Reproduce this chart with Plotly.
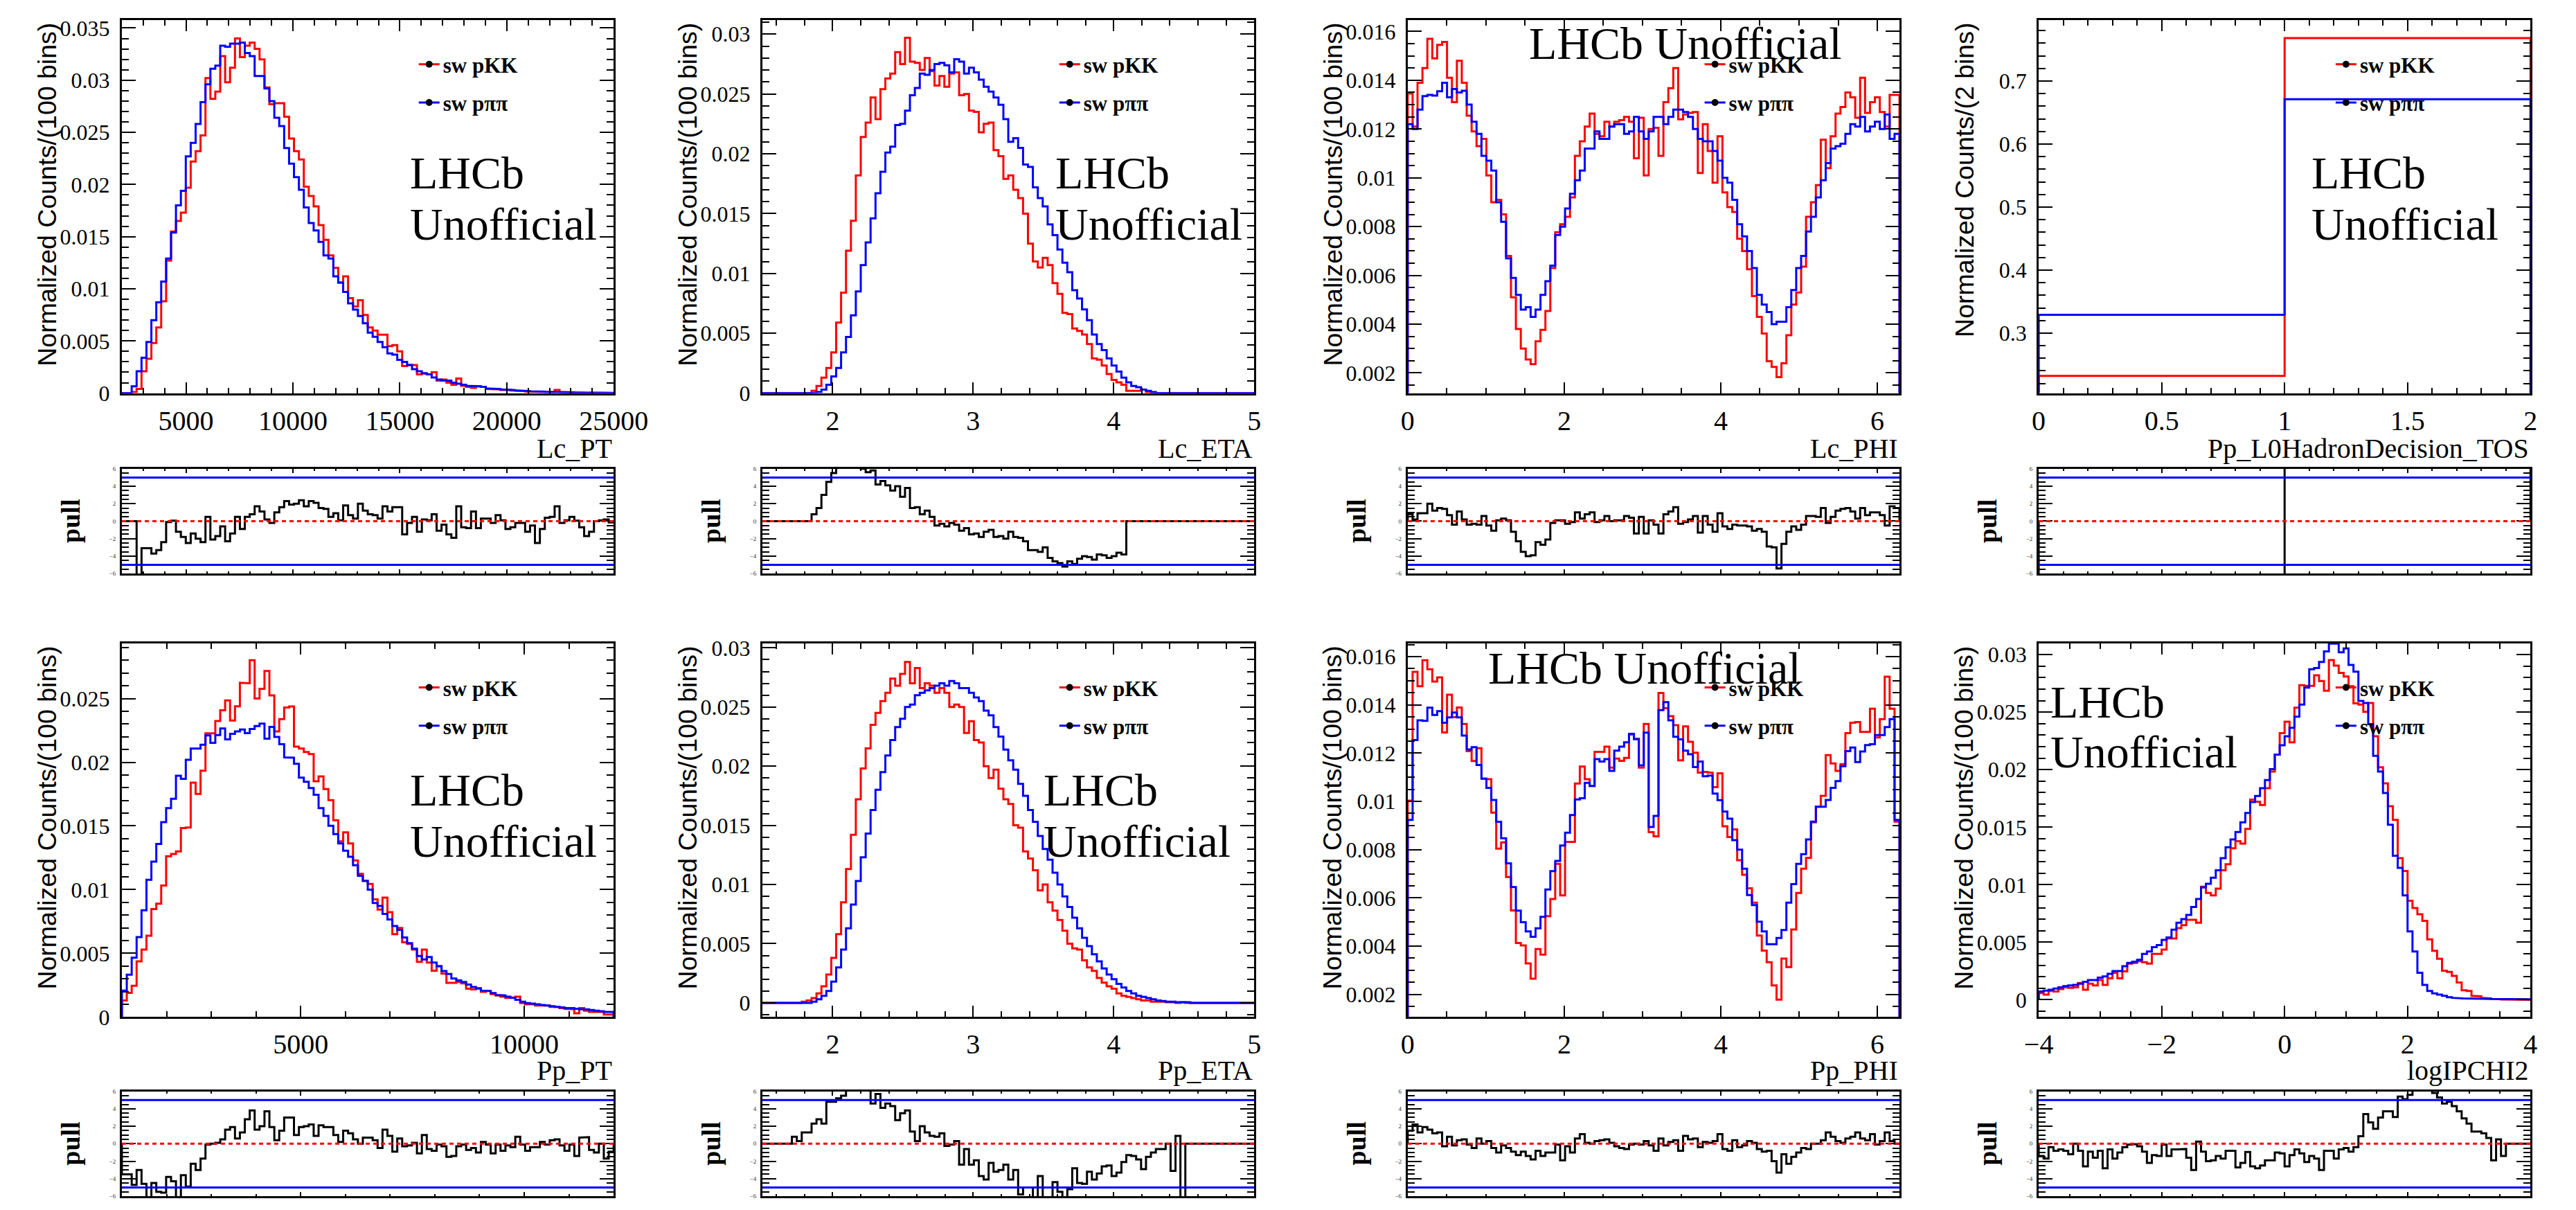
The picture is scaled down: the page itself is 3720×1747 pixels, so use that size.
import math
import plotly.graph_objects as go

W, H = 3720, 1747

# ------------------------------------------------------------------ data
var_names = ["Lc_PT", "Lc_ETA", "Lc_PHI", "Pp_L0HadronDecision_TOS",
             "Pp_PT", "Pp_ETA", "Pp_PHI", "logIPCHI2"]
bin_lo = [2000, 1.5, 0.0, 0.0, 1000, 1.5, 0.0, -4.0]
bin_hi = [25000, 5.0, 2 * math.pi, 2.0, 12000, 5.0, 2 * math.pi, 4.0]
series_names = ["sw pKK", "sw p\u03c0\u03c0"]

lc_pt_pkk = [0, 0, 0.0001, 0.0004, 0.0021, 0.0033, 0.0048, 0.0063, 0.0088, 0.0127,
             0.0155, 0.0165, 0.0173, 0.0197, 0.0222, 0.0232, 0.0247, 0.0302, 0.0282, 0.0289,
             0.0323, 0.0298, 0.0312, 0.0340, 0.0322, 0.0333, 0.0336, 0.0330, 0.0320, 0.0293,
             0.0277, 0.0278, 0.0278, 0.0265, 0.0244, 0.0232, 0.0224, 0.0198, 0.0189, 0.0179,
             0.0161, 0.0147, 0.0132, 0.0120, 0.0106, 0.0112, 0.0091, 0.0083, 0.0089, 0.0075,
             0.0063, 0.0060, 0.0056, 0.0056, 0.0045, 0.0046, 0.0040, 0.0026, 0.0027, 0.0027,
             0.0018, 0.0019, 0.0018, 0.0020, 0.0012, 0.0013, 0.0010, 0.0008, 0.0014, 0.0007,
             0.0006, 0.0005, 0.00065, 0.0006, 0.0004, 0.0004, 0.00035, 0.0003, 0.0003, 0.00025,
             0.0002, 0.0002, 0.00015, 0.00015, 0.00012, 0.0001, 0.0001, 0.0001, 0.0003, 0.0001,
             0.00008, 0.00006, 0.00005, 0.00005, 0.00004, 0.00003, 0.00003, 0.00002, 0.00002, 0.00001]
lc_pt_ppipi = [0, 0, 0.00065, 0.0021, 0.0034, 0.0049, 0.0070, 0.0087, 0.0107, 0.0129,
               0.0154, 0.0180, 0.0194, 0.0227, 0.0240, 0.0258, 0.0279, 0.0296, 0.0311, 0.0314,
               0.0333, 0.0332, 0.0335, 0.0335, 0.0336, 0.0326, 0.0323, 0.0304, 0.0304, 0.0292,
               0.0280, 0.0264, 0.0256, 0.0235, 0.0220, 0.0207, 0.0195, 0.0178, 0.0163, 0.0156,
               0.0145, 0.0132, 0.0129, 0.0112, 0.0106, 0.0097, 0.0086, 0.0080, 0.0074, 0.0067,
               0.0058, 0.0054, 0.0049, 0.0044, 0.0038, 0.0037, 0.0032, 0.0030, 0.0027, 0.0023,
               0.0021, 0.0019, 0.0018, 0.0015, 0.0013, 0.0012, 0.0012, 0.0010, 0.0009, 0.0008,
               0.0007, 0.0007, 0.00065, 0.0006, 0.00045, 0.00045, 0.0004, 0.00035, 0.0003, 0.0003,
               0.00025, 0.00022, 0.0002, 0.00018, 0.00016, 0.00014, 0.00012, 0.0001, 0.0001, 0.00009,
               0.00008, 0.00007, 0.00006, 0.00005, 0.00005, 0.00004, 0.00004, 0.00003, 0.00003, 0.00002]
lc_pt_pull = [0, 0, 0, -6.5, -3.1, -3.1, -3.7, -3.3, -2.4, -0.1,
              0.05, -1.2, -1.8, -2.5, -1.4, -2.0, -2.4, 0.5, -2.1, -1.7,
              -0.6, -2.3, -1.4, 0.5, -0.9, 0.5, 0.8, 1.7, 1.1, 0.2,
              -0.2, 1.0, 1.6, 2.3, 1.9, 2.0, 2.4, 1.7, 2.3, 2.1,
              1.5, 1.4, 0.5, 0.9, 0.1, 1.8, 0.7, 0.3, 2.0, 1.2,
              0.8, 0.7, 0.3, 1.7, 1.1, 1.6, 1.6, -1.5, -0.2, 0.5,
              -1.2, 0.2, 0.1, 0.8, -1.1, -0.4, -1.5, -1.9, 1.7, -0.7,
              -0.8, 1.1, -0.8, 0.3, 0.3, -0.2, 0.7, 0.1, -0.9, -0.7,
              -0.2, -0.2, -1.2, -0.5, -2.5, -0.9, 0.4, 0.5, 1.7, -0.2,
              0.1, 0.5, 0.05, -0.7, -1.7, -1.2, 0, 0.1, 0.2, -0.15]

lc_eta_pkk = [0, 0, 0, 0, 0, 0, 0, 0, 0, 0,
              0.0002, 0.0006, 0.0013, 0.0021, 0.0034, 0.0059, 0.0084, 0.0119, 0.0144, 0.0182,
              0.0214, 0.0226, 0.0247, 0.0229, 0.0254, 0.0263, 0.0267, 0.0285, 0.0275, 0.0297,
              0.0277, 0.0276, 0.0270, 0.0280, 0.0269, 0.0257, 0.0265, 0.0256, 0.0267, 0.0268,
              0.0249, 0.0250, 0.0236, 0.0235, 0.0218, 0.0225, 0.0226, 0.0203, 0.0198, 0.0179,
              0.0182, 0.0170, 0.0163, 0.0150, 0.0125, 0.0110, 0.0105, 0.0113, 0.0107, 0.0092,
              0.0083, 0.0067, 0.0066, 0.0054, 0.0052, 0.0049, 0.0041, 0.0029, 0.0028, 0.0023,
              0.0016, 0.0011, 0.0009, 0.0007, 0.0002, 0.0002, 0.0002, 0.0003, 0.0001, 0,
              0, 0, 0, 0, 0, 0, 0, 0, 0, 0,
              0, 0, 0, 0, 0, 0, 0, 0, 0, 0]
lc_eta_ppipi = [0, 0, 0, 0, 0, 0, 0, 0, 0, 0,
                0, 0.0001, 0.0003, 0.0007, 0.0014, 0.0021, 0.0034, 0.0047, 0.0065, 0.0085,
                0.0107, 0.0126, 0.0146, 0.0167, 0.0185, 0.0201, 0.0206, 0.0224, 0.0225, 0.0236,
                0.0249, 0.0255, 0.0267, 0.0266, 0.0270, 0.0275, 0.0276, 0.0274, 0.0268, 0.0279,
                0.0277, 0.0267, 0.0272, 0.0268, 0.0262, 0.0256, 0.0252, 0.0247, 0.0241, 0.0229,
                0.0210, 0.0213, 0.0205, 0.0191, 0.0189, 0.0172, 0.0163, 0.0156, 0.0141, 0.0132,
                0.0120, 0.0109, 0.0101, 0.0086, 0.0079, 0.0070, 0.0061, 0.0049, 0.0041, 0.0036,
                0.0029, 0.0023, 0.0018, 0.0013, 0.0009, 0.0006, 0.0005, 0.0003, 0.0002, 0.0001,
                0, 0, 0, 0, 0, 0, 0, 0, 0, 0,
                0, 0, 0, 0, 0, 0, 0, 0, 0, 0]
lc_eta_pull = [0, 0, 0, 0, 0, 0, 0, 0, 0, 0,
               0.8, 1.5, 3.0, 4.5, 5.5, 6.5, 6.5, 6.5, 6.5, 6.2,
               6.0, 5.6, 5.8, 4.2, 4.6, 4.1, 3.5, 4.0, 2.8, 3.8,
               1.5, 1.6, 0.8, 1.2, 0.5, -0.5, -0.3, -0.6, -0.2, -0.4,
               -1.1, -0.8, -1.5, -1.4, -1.8, -1.2, -1.0, -1.8, -1.7, -2.0,
               -1.2, -1.8, -1.9, -2.3, -3.3, -3.3, -3.5, -3.0, -4.2, -4.6,
               -4.8, -5.2, -4.6, -4.9, -4.3, -4.0, -4.1, -4.4, -3.8, -3.9,
               -4.2, -4.0, -3.6, -3.8, 0, 0, 0, 0, 0, 0,
               0, 0, 0, 0, 0, 0, 0, 0, 0, 0,
               0, 0, 0, 0, 0, 0, 0, 0, 0, 0]

lc_phi_pkk = [0.01346, 0.0121, 0.0139, 0.0145, 0.0157, 0.0149, 0.01545, 0.01557, 0.0141, 0.0131,
              0.0148, 0.0139, 0.01255, 0.0119, 0.0113, 0.0116, 0.0101, 0.0090, 0.0091, 0.0085,
              0.0068, 0.0051, 0.0038, 0.0030, 0.00255, 0.00236, 0.0033, 0.00377, 0.00454, 0.0063,
              0.00777, 0.0081, 0.0084, 0.0092, 0.0109, 0.0115, 0.0121, 0.01263, 0.0118, 0.0117,
              0.0123, 0.0121, 0.0123, 0.01236, 0.0125, 0.0123, 0.0108, 0.01246, 0.0101, 0.0120,
              0.01205, 0.0109, 0.0131, 0.01368, 0.0145, 0.0124, 0.0126, 0.01266, 0.0127, 0.0102,
              0.0122, 0.0111, 0.0098, 0.0117, 0.0094, 0.0088, 0.0086, 0.0075, 0.0070, 0.00625,
              0.00515, 0.0043, 0.00362, 0.00248, 0.00225, 0.00183, 0.0024, 0.00355, 0.0048, 0.0053,
              0.00636, 0.0084, 0.0090, 0.0097, 0.01156, 0.0104, 0.0117, 0.01263, 0.0129, 0.0135,
              0.0133, 0.01246, 0.0141, 0.01266, 0.0131, 0.0133, 0.0127, 0.0121, 0.0134, 0.0134]
lc_phi_ppipi = [0.0122, 0.0120, 0.0128, 0.01335, 0.0134, 0.01337, 0.01355, 0.0139, 0.0133, 0.01364,
                0.0135, 0.01357, 0.0130, 0.0123, 0.0118, 0.0109, 0.0107, 0.0103, 0.0090, 0.0082,
                0.0067, 0.0059, 0.0052, 0.0046, 0.0047, 0.0043, 0.0046, 0.0052, 0.00576, 0.0064,
                0.00766, 0.0080, 0.00874, 0.00935, 0.0099, 0.0103, 0.0112, 0.0112, 0.0119, 0.0116,
                0.0116, 0.0121, 0.0122, 0.0122, 0.0118, 0.0119, 0.0125, 0.0119, 0.0116, 0.0119,
                0.0125, 0.0125, 0.0122, 0.0125, 0.0128, 0.0128, 0.0127, 0.0125, 0.0120, 0.0116,
                0.0115, 0.0115, 0.0111, 0.0107, 0.0100, 0.0098, 0.0091, 0.0081, 0.0076, 0.0070,
                0.0063, 0.0052, 0.0048, 0.0045, 0.0040, 0.0041, 0.0041, 0.0047, 0.0054, 0.0063,
                0.0068, 0.0078, 0.0084, 0.0092, 0.0099, 0.0106, 0.0112, 0.0113, 0.0114, 0.0118,
                0.0122, 0.0121, 0.0125, 0.0119, 0.0121, 0.0123, 0.0120, 0.0126, 0.0116, 0.0118]
lc_phi_pull = [0.8, 0.2, 0.9, 0.9, 2.0, 1.2, 1.5, 1.4, 0.7, -0.4,
               1.1, 0.2, -0.4, -0.3, -0.4, 0.6, -0.5, -1.1, 0.1, 0.3,
               0.1, -1.2, -2.3, -3.5, -4.0, -3.9, -2.4, -2.7, -2.1, -0.2,
               0.1, 0.1, -0.3, -0.1, 1.0, 0.3, 0.8, 1.0, -0.1, 0.1,
               0.6, 0.0, 0.1, 0.1, 0.6, 0.4, -1.4, 0.5, -1.4, 0.1,
               -0.4, -1.4, 0.8, 1.1, 1.6, -0.3, -0.1, 0.2, 0.6, -1.3,
               0.6, -0.4, -1.2, 0.9, -0.6, -0.9, -0.4, -0.5, -0.5, -0.6,
               -1.1, -0.9, -1.2, -2.9, -3.0, -5.4, -2.6, -1.2, -0.6, -1.0,
               -0.4, 0.6, 0.6, 0.5, 1.5, -0.2, 0.5, 1.2, 1.4, 1.5,
               1.1, 0.3, 1.5, 0.7, 1.0, 1.0, 0.7, -0.5, 1.7, 1.5]

l0_pkk = [0.232, 0.768]
l0_ppipi = [0.329, 0.671]
l0_pull = [-40.0, 40.0]

pp_pt_pkk = [0.0013, 0.0019, 0.00246, 0.00437, 0.0053, 0.00638, 0.00848, 0.0089, 0.01033, 0.01262,
             0.0128, 0.0130, 0.01484, 0.01488, 0.0184, 0.01751, 0.01933, 0.02227, 0.02227, 0.02324,
             0.02408, 0.02485, 0.02328, 0.02439, 0.02624, 0.0262, 0.0280, 0.0250, 0.02576, 0.02716,
             0.02525, 0.02242, 0.02338, 0.0243, 0.02437, 0.02122, 0.02108, 0.0208, 0.02064, 0.0185,
             0.01889, 0.0179, 0.01702, 0.01545, 0.01379, 0.0145, 0.01363, 0.0123, 0.01125, 0.01071,
             0.01044, 0.00924, 0.00844, 0.00937, 0.00823, 0.00651, 0.0070, 0.00586, 0.00575, 0.00529,
             0.00433, 0.00529, 0.00427, 0.00364, 0.00399, 0.00341, 0.00269, 0.00269, 0.00275, 0.00265,
             0.00223, 0.00217, 0.00223, 0.00198, 0.00204, 0.0018, 0.0017, 0.0016, 0.0015, 0.00154,
             0.0016, 0.0011, 0.0010, 0.0010, 0.0009, 0.0009, 0.0009, 0.0008, 0.0008, 0.0007,
             0.00064, 0.0006, 0.0003, 0.0007, 0.0005, 0.0004, 0.0004, 0.0004, 0.0002, 0.0002]
pp_pt_ppipi = [0.00208, 0.00332, 0.00466, 0.00628, 0.00838, 0.01077, 0.0122, 0.01358, 0.0153, 0.0164,
               0.01713, 0.01894, 0.0187, 0.02019, 0.02108, 0.02108, 0.02137, 0.0221, 0.02152, 0.02213,
               0.02265, 0.0218, 0.02223, 0.02242, 0.02257, 0.02229, 0.02261, 0.02284, 0.02303, 0.02185,
               0.02277, 0.02198, 0.02141, 0.02038, 0.02036, 0.01988, 0.01879, 0.01847, 0.01797, 0.01745,
               0.0164, 0.01579, 0.01501, 0.01436, 0.01363, 0.01306, 0.01258, 0.01192, 0.01109, 0.01067,
               0.0100, 0.00895, 0.00872, 0.00809, 0.00766, 0.00714, 0.00685, 0.00624, 0.0058, 0.00536,
               0.00479, 0.00452, 0.00471, 0.00427, 0.00399, 0.00361, 0.00338, 0.00303, 0.00288, 0.00275,
               0.00255, 0.00236, 0.00227, 0.00208, 0.00204, 0.00189, 0.00173, 0.0017, 0.0016, 0.0015,
               0.00135, 0.0012, 0.0011, 0.00105, 0.0010, 0.00095, 0.0009, 0.00085, 0.0008, 0.00075,
               0.0007, 0.0007, 0.00065, 0.0006, 0.0006, 0.00055, 0.0005, 0.00045, 0.0004, 0.0004]
pp_pt_pull = [-3.5, -3.5, -4.7, -3.0, -4.6, -6.5, -4.5, -5.5, -5.6, -3.8,
              -4.3, -6.5, -3.6, -4.9, -2.3, -3.0, -1.7, -0.1, 0.0, 0.1,
              0.5, 1.6, 1.9, 0.6, 1.3, 2.8, 3.8, 1.6, 2.0, 3.7,
              1.9, 0.4, 1.5, 3.0, 3.0, 1.0, 1.9, 2.0, 2.2, 0.9,
              2.1, 1.9, 1.9, 1.0, 0.2, 1.5, 1.2, 0.5, 0.0, 0.7,
              0.7, 0.4, -0.5, 1.6, 0.9, -0.9, 0.6, -0.3, -0.2, 0.1,
              -1.1, 1.0, -0.6, -0.8, -0.1, -0.3, -1.5, -1.4, -0.3, -0.1,
              -0.7, -0.5, -1.0, 0.2, -0.1, -1.1, -0.1, -0.8, -0.2, -0.4,
              0.8, -0.1, -0.8, -0.4, -0.4, 0.2, -0.1, 0.4, 0.5, -0.2,
              -0.8, -0.1, -1.4, 0.7, 0.75, -0.7, -1.0, 0.0, -1.7, -0.9]

pp_eta_pkk = [0, 0, 0, 0, 0, 0, 0, 0, 0.0001, 0.0002,
              0.0004, 0.0008, 0.0014, 0.0024, 0.0038, 0.0058, 0.0085, 0.0113, 0.0142, 0.0172,
              0.0198, 0.0215, 0.0235, 0.0245, 0.0255, 0.0262, 0.0274, 0.0268, 0.0278, 0.0288,
              0.0270, 0.0283, 0.0266, 0.0270, 0.0268, 0.0262, 0.0266, 0.0262, 0.0250, 0.0252,
              0.0250, 0.0228, 0.0238, 0.0222, 0.0220, 0.0200, 0.0190, 0.0197, 0.0181, 0.0172,
              0.0168, 0.0150, 0.0148, 0.0128, 0.0122, 0.0112, 0.0095, 0.0100, 0.0085, 0.0078,
              0.0070, 0.0061, 0.0050, 0.0046, 0.0045, 0.0036, 0.0030, 0.0027, 0.0021, 0.0017,
              0.0014, 0.0012, 0.0008, 0.0006, 0.0005, 0.0004, 0.0003, 0.0002, 0.0002, 0.0001,
              0.0001, 0.0001, 0.00005, 0.00005, 0, 0.00005, 0, 0, 0, 0,
              0, 0, 0, 0, 0, 0, 0, 0, 0, 0]
pp_eta_ppipi = [0, 0, 0, 0, 0, 0, 0, 0, 0, 0,
                0.0001, 0.0003, 0.0006, 0.0010, 0.0018, 0.0030, 0.0045, 0.0063, 0.0083, 0.0103,
                0.0123, 0.0143, 0.0163, 0.0180, 0.0195, 0.0209, 0.0222, 0.0233, 0.0240, 0.0250,
                0.0252, 0.0260, 0.0262, 0.0264, 0.0266, 0.0268, 0.0270, 0.0268, 0.0272, 0.0270,
                0.0266, 0.0266, 0.0262, 0.0258, 0.0255, 0.0247, 0.0243, 0.0233, 0.0225, 0.0214,
                0.0205, 0.0197, 0.0185, 0.0175, 0.0163, 0.0153, 0.0141, 0.0130, 0.0121, 0.0110,
                0.0100, 0.0090, 0.0081, 0.0072, 0.0063, 0.0055, 0.0048, 0.0041, 0.0035, 0.0029,
                0.0024, 0.0020, 0.0016, 0.0013, 0.0010, 0.0008, 0.0006, 0.0005, 0.0004, 0.0003,
                0.0002, 0.00015, 0.0001, 0.0001, 0.00005, 0.00005, 0.00005, 0, 0, 0,
                0, 0, 0, 0, 0, 0, 0, 0, 0, 0]
pp_eta_pull = [0, 0, 0, 0, 0, 0, 0.8, 0.3, 1.3, 1.3,
               2.3, 2.8, 2.3, 4.8, 4.8, 5.2, 5.5, 6.5, 6.5, 6.5,
               6.5, 6.5, 4.6, 5.7, 4.1, 4.6, 4.3, 2.7, 3.5, 3.8,
               1.4, 0.3, 2.0, 1.3, 0.9, 0.8, 1.2, -0.26, -0.1, 0.3,
               -2.4, -0.6, -2.4, -1.9, -3.7, -4.1, -2.2, -3.2, -3.0, -2.4,
               -4.1, -3.0, -5.8, -5.0, -5.0, -6.5, -3.7, -6.5, -6.5, -4.4,
               -5.5, -6.5, -5.2, -2.8, -4.5, -4.6, -3.2, -4.1, -3.4, -2.6,
               -2.5, -3.7, -3.3, -2.1, -1.3, -1.4, -1.8, -2.9, -1.5, -1.0,
               -0.6, -0.6, 0.0, -3.1, 0.9, -9.0, 0, 0, 0, 0,
               0, 0, 0, 0, 0, 0, 0, 0, 0, 0]

pp_phi_pkk = [0.01003, 0.01537, 0.01477, 0.01585, 0.01548, 0.01497, 0.01514, 0.01286, 0.01442, 0.01349,
              0.01389, 0.01321, 0.01208, 0.01167, 0.0122, 0.01094, 0.01092, 0.00953, 0.00804, 0.0083,
              0.00686, 0.00548, 0.00413, 0.00403, 0.00328, 0.00265, 0.00388, 0.00365, 0.00524, 0.00595,
              0.00741, 0.0061, 0.00832, 0.00832, 0.01074, 0.01144, 0.01092, 0.01064, 0.01205, 0.01205,
              0.01227, 0.0114, 0.01177, 0.01168, 0.0118, 0.01277, 0.0126, 0.0114, 0.01321, 0.00872,
              0.00855, 0.01449, 0.01386, 0.01353, 0.01316, 0.0117, 0.01311, 0.01247, 0.01202, 0.01119,
              0.01122, 0.01119, 0.01059, 0.01116, 0.00897, 0.00852, 0.00884, 0.00756, 0.00696, 0.0064,
              0.0058, 0.00444, 0.00381, 0.00333, 0.00237, 0.00178, 0.00348, 0.00313, 0.00469, 0.0062,
              0.00721, 0.00766, 0.00913, 0.00978, 0.01023, 0.01192, 0.01157, 0.01126, 0.01154, 0.01283,
              0.01326, 0.01329, 0.01288, 0.01288, 0.01384, 0.01265, 0.01341, 0.01517, 0.01384, 0.00916]
pp_phi_ppipi = [0.00923, 0.01254, 0.01336, 0.01334, 0.01388, 0.01358, 0.01374, 0.01326, 0.01348, 0.01368,
                0.01348, 0.01273, 0.01215, 0.01225, 0.01151, 0.01094, 0.01056, 0.01006, 0.00915, 0.00847,
                0.00743, 0.00645, 0.00547, 0.00499, 0.00461, 0.00439, 0.00474, 0.00521, 0.00635, 0.00711,
                0.00753, 0.00817, 0.0087, 0.00943, 0.01008, 0.01013, 0.01077, 0.01064, 0.01175, 0.01165,
                0.01175, 0.01126, 0.0121, 0.01227, 0.01245, 0.0128, 0.01258, 0.01149, 0.01285, 0.00894,
                0.0094, 0.01378, 0.01411, 0.01336, 0.01268, 0.01257, 0.0121, 0.01195, 0.01142, 0.01165,
                0.01104, 0.01107, 0.01032, 0.01005, 0.00958, 0.00928, 0.00839, 0.008, 0.00721, 0.00612,
                0.0057, 0.00501, 0.00461, 0.00408, 0.00408, 0.00434, 0.00467, 0.0058, 0.00657, 0.00741,
                0.00781, 0.00842, 0.00916, 0.00978, 0.00978, 0.01006, 0.01056, 0.01084, 0.01146, 0.01208,
                0.01223, 0.01163, 0.01207, 0.01233, 0.01237, 0.01275, 0.01275, 0.01308, 0.01341, 0.00923]
pp_phi_pull = [1.5, 2.2, 1.3, 1.9, 1.6, 1.2, 1.3, -0.3, 0.8, -0.2,
               0.4, 0.5, -0.1, -0.5, 0.6, 0.0, 0.3, -0.5, -1.0, -0.2,
               -0.5, -0.9, -1.3, -0.9, -1.4, -1.8, -0.8, -1.4, -1.0, -1.0,
               -0.1, -1.9, -0.3, -1.0, 0.6, 1.1, 0.1, 0.0, 0.3, 0.4,
               0.5, 0.1, -0.3, -0.5, -0.6, -0.1, 0.0, -0.1, 0.3, -0.2,
               -0.8, 0.6, -0.2, 0.2, 0.4, -0.8, 0.9, 0.5, 0.6, -0.4,
               0.2, 0.1, 0.3, 1.1, -0.6, -0.8, 0.4, -0.4, -0.2, 0.3,
               0.1, -0.6, -0.9, -0.8, -2.0, -3.3, -1.2, -2.3, -1.5, -1.0,
               -0.5, -0.6, 0.0, 0.0, 0.4, 1.3, 0.8, 0.3, 0.1, 0.6,
               0.8, 1.3, 0.6, 0.4, 1.1, -0.1, 0.3, 1.3, 0.3, 0.0]

logip_pkk = [0.00059, 0.00045, 0.00076, 0.00072, 0.00093, 0.00108, 0.00104, 0.00108, 0.00146, 0.00087,
             0.0014, 0.00125, 0.00172, 0.00129, 0.00186, 0.00235, 0.00186, 0.00246, 0.00314, 0.0032,
             0.00335, 0.00326, 0.00314, 0.00398, 0.00398, 0.00436, 0.00532, 0.00532, 0.00623, 0.00648,
             0.00695, 0.00695, 0.00669, 0.00983, 0.00928, 0.00907, 0.00966, 0.01125, 0.01178, 0.01316,
             0.01379, 0.01358, 0.01485, 0.01739, 0.01722, 0.01693, 0.01839, 0.01983, 0.02131, 0.02318,
             0.02417, 0.02237, 0.02538, 0.02735, 0.02729, 0.02729, 0.0282, 0.02771, 0.02686, 0.02953,
             0.02905, 0.02841, 0.0281, 0.02725, 0.02576, 0.02566, 0.02502, 0.0258, 0.0229, 0.02021,
             0.01881, 0.01682, 0.01564, 0.01231, 0.01119, 0.0086, 0.00797, 0.00744, 0.00686, 0.00525,
             0.00426, 0.00356, 0.00252, 0.00242, 0.00208, 0.00151, 0.00083, 0.00076, 0.00034, 0.0003,
             0.00017, 0.00013, 0.00008, 0.00004, 0.00003, 0.00002, 0.00002, 0.00001, 0.00001, 0.0]
logip_ppipi = [0.00072, 0.0008, 0.00087, 0.00097, 0.00108, 0.00119, 0.00125, 0.00129, 0.0014, 0.00157,
               0.00172, 0.00172, 0.00193, 0.00203, 0.00225, 0.0025, 0.0025, 0.00292, 0.0032, 0.00331,
               0.00347, 0.00398, 0.00419, 0.00458, 0.00475, 0.00521, 0.00542, 0.0061, 0.00669, 0.00701,
               0.00737, 0.00807, 0.00875, 0.00977, 0.01008, 0.01061, 0.01125, 0.01231, 0.01326, 0.01394,
               0.01458, 0.01542, 0.01623, 0.01718, 0.01771, 0.01839, 0.01909, 0.02004, 0.02131, 0.02212,
               0.0229, 0.02364, 0.0246, 0.02566, 0.02714, 0.02873, 0.02883, 0.02936, 0.03028, 0.03095,
               0.03095, 0.03021, 0.03053, 0.02911, 0.02852, 0.02597, 0.0258, 0.02396, 0.02121, 0.01983,
               0.01797, 0.01521, 0.01252, 0.01146, 0.00907, 0.00595, 0.00419, 0.00235, 0.00129, 0.00076,
               0.00055, 0.00045, 0.00034, 0.00023, 0.00017, 0.00013, 0.00012, 0.00011, 0.0001, 0.00009,
               0.00008, 0.00008, 0.00007, 0.00007, 0.00006, 0.00006, 0.00005, 0.00005, 0.00005, 0.00005]
logip_pull = [-1.4, -1.7, -0.4, -0.8, -0.65, -0.8, -1.2, 0.0, -0.8, -2.6,
              -0.9, -1.6, -0.8, -2.8, -0.65, -1.7, -1.0, -0.4, -0.1, -0.05,
              -0.3, -0.9, -2.2, -1.3, -1.4, -0.1, -1.4, -0.65, -0.65, -0.6,
              -1.6, -3.0, 0.25, -0.9, -2.0, -1.9, -1.4, -1.7, -0.8, -0.8,
              -2.7, -2.2, -0.95, -2.6, -2.8, -2.5, -1.9, -1.9, -1.0, -1.1,
              -2.6, -1.3, -0.65, -1.1, -2.1, -1.4, -1.7, -3.0, -0.8, -0.8,
              -1.7, -0.65, -0.5, -0.9, -0.4, 0.85, 3.4, 2.45, 1.7, 3.0,
              3.7, 3.7, 3.05, 5.4, 5.1, 5.6, 6.5, 6.5, 6.5, 6.5,
              5.8, 5.3, 4.6, 4.8, 4.3, 3.7, 2.9, 2.3, 1.4, 1.4,
              1.2, 0.65, -1.9, 0.5, -1.4, 0, 0, 0, 0, 0]

hist_pkk = [lc_pt_pkk, lc_eta_pkk, lc_phi_pkk, l0_pkk, pp_pt_pkk, pp_eta_pkk, pp_phi_pkk, logip_pkk]
hist_ppipi = [lc_pt_ppipi, lc_eta_ppipi, lc_phi_ppipi, l0_ppipi, pp_pt_ppipi, pp_eta_ppipi, pp_phi_ppipi, logip_ppipi]
hist_pull = [lc_pt_pull, lc_eta_pull, lc_phi_pull, l0_pull, pp_pt_pull, pp_eta_pull, pp_phi_pull, logip_pull]
y_titles = ["Normalized Counts/(100 bins)"] * 3 + ["Normalized Counts/(2 bins)"] + ["Normalized Counts/(100 bins)"] * 4

# ------------------------------------------------------------------ layout / style
x_view = [[2000, 25000], [1.5, 5], [0, 2 * math.pi], [0, 2], [1000, 12000], [1.5, 5], [0, 2 * math.pi], [-4, 4]]
y_view = [[0, 0.03578], [0, 0.03119], [0.001173, 0.016475], [0.2047, 0.797],
          [0, 0.02935], [-0.0012, 0.0304], [0.00106, 0.01656], [-0.0015, 0.031]]
x_ticks = [(5000, 1000, "d"), (1, 0.2, "~f"), (2, 0.5, "~f"), (0.5, 0.1, ".1~f"),
           (5000, 1000, "d"), (1, 0.2, "~f"), (2, 0.5, "~f"), (2, 0.5, "~f")]
y_ticks = [(0.005, 0.001, ".3~f"), (0.005, 0.001, ".3~f"), (0.002, 0.0005, ".3~f"), (0.1, 0.02, ".1~f"),
           (0.005, 0.001, ".3~f"), (0.005, 0.001, ".3~f"), (0.002, 0.0005, ".3~f"), (0.005, 0.001, ".3~f")]

COL_LEFT = [158, 1101, 2051, 2980]
FW = 724
MAIN_ROWS = [(18, 566), (933, 1482)]
PULL_ROWS = [(677, 831), (1591, 1745)]
TITLE_Y = [647, 1560]
# LHCb label positions (relative to frame left / frame top, px)
lhcb_pos = [[(422, 225, "LHCb"), (422, 300, "Unofficial")],
            [(429, 225, "LHCb"), (429, 300, "Unofficial")],
            [(177, 34, "LHCb Unofficial")],
            [(400, 225, "LHCb"), (400, 300, "Unofficial")],
            [(422, 216, "LHCb"), (422, 291, "Unofficial")],
            [(412, 216, "LHCb"), (412, 291, "Unofficial")],
            [(116, 37, "LHCb Unofficial")],
            [(15, 86, "LHCb"), (15, 160, "Unofficial")]]

SERIF = "Liberation Serif"
SANS = "Liberation Sans"
RED, BLUE = "#ff0000", "#0000ff"


def px(x):
    return x / W


def py(y):
    return 1 - y / H


def step_xy(lo, hi, vals):
    n = len(vals)
    edges = [lo + (hi - lo) * i / n for i in range(n + 1)]
    xs, ys = [edges[0]], [0.0]
    for i, v in enumerate(vals):
        xs += [edges[i], edges[i + 1]]
        ys += [v, v]
    xs.append(edges[-1])
    ys.append(0.0)
    return xs, ys


def aref(k):
    return ("x", "y") if k == 1 else (f"x{k}", f"y{k}")


def akey(k):
    return ("xaxis", "yaxis") if k == 1 else (f"xaxis{k}", f"yaxis{k}")


fig = go.Figure()
layout = dict(width=W, height=H, margin=dict(l=0, r=0, t=0, b=0), autosize=False,
              paper_bgcolor="white", plot_bgcolor="white", showlegend=True)
annotations = []
shapes = []

for p in range(8):
    row, col = divmod(p, 4)
    L = COL_LEFT[col]
    mt, mb = MAIN_ROWS[row]
    pt, pb = PULL_ROWS[row]
    km, kp = 2 * p + 1, 2 * p + 2
    xm, ym = aref(km)
    xp_, yp_ = aref(kp)
    xd = [px(L), px(L + FW)]
    xdt, xminor, xfmt = x_ticks[p]
    ydt, yminor, yfmt = y_ticks[p]
    common = dict(showline=True, linewidth=3, linecolor="black", mirror="allticks",
                  ticks="inside", tickwidth=2, tickcolor="black", showgrid=False, zeroline=False,
                  tickfont=dict(family=SERIF, size=40, color="black"))
    kx, ky = akey(km)
    layout[kx] = dict(common, domain=xd, range=x_view[p], anchor=ym, ticklen=16, dtick=xdt, tick0=0,
                      tickformat=xfmt, ticklabelstandoff=2,
                      minor=dict(ticks="inside", ticklen=8, dtick=xminor, tick0=0, tickwidth=2, tickcolor="black"))
    layout[ky] = dict(common, domain=[py(mb), py(mt)], range=y_view[p], anchor=xm, ticklen=20, dtick=ydt,
                      tick0=0, tickformat=yfmt, ticklabelstandoff=8,
                      tickfont=dict(family=SERIF, size=32, color="black"),
                      minor=dict(ticks="inside", ticklen=10, dtick=yminor, tick0=0, tickwidth=2, tickcolor="black"))
    kx2, ky2 = akey(kp)
    layout[kx2] = dict(common, domain=xd, range=x_view[p], anchor=yp_, ticklen=6, dtick=xdt, tick0=0,
                       showticklabels=False,
                       minor=dict(ticks="inside", ticklen=3, dtick=xminor, tick0=0, tickwidth=2, tickcolor="black"))
    layout[ky2] = dict(common, domain=[py(pb), py(pt)], range=[-6, 6], anchor=xp_, ticklen=20, dtick=2, tick0=0,
                       tickformat="d", tickfont=dict(family=SERIF, size=9, color="#333333"), ticklabelstandoff=4,
                       minor=dict(ticks="inside", ticklen=10, dtick=0.5, tick0=0, tickwidth=2, tickcolor="black"))

    lo, hi = bin_lo[p], bin_hi[p]
    for vals, color in ((hist_pkk[p], RED), (hist_ppipi[p], BLUE)):
        xs, ys = step_xy(lo, hi, vals)
        fig.add_trace(go.Scatter(x=xs, y=ys, mode="lines", line=dict(color=color, width=3),
                                 xaxis=xm, yaxis=ym, showlegend=False, hoverinfo="skip"))
    xs, ys = step_xy(lo, hi, hist_pull[p])
    fig.add_trace(go.Scatter(x=xs, y=ys, mode="lines", line=dict(color="black", width=3),
                             xaxis=xp_, yaxis=yp_, showlegend=False, hoverinfo="skip"))

    # legend entries
    lname = "legend" if p == 0 else f"legend{p + 1}"
    for nm, color in zip(series_names, (RED, BLUE)):
        fig.add_trace(go.Scatter(x=[None], y=[None], mode="lines+markers", name=nm,
                                 line=dict(color=color, width=3), marker=dict(color="black", size=10),
                                 xaxis=xm, yaxis=ym, legend=lname, legendgroup=f"{nm}{p}", showlegend=True))
    layout[lname] = dict(x=px(L + 432), y=py(mt + 38), xanchor="left", yanchor="top",
                         bgcolor="rgba(0,0,0,0)", borderwidth=0, tracegroupgap=12, itemwidth=30,
                         font=dict(family=SERIF, size=31, color="black", weight="bold"))

    # pull reference lines
    for yv, color, dash in ((5, BLUE, "solid"), (-5, BLUE, "solid"), (0, RED, "6px,5px")):
        shapes.append(dict(type="line", xref=f"{xp_} domain", yref=yp_, x0=0, x1=1, y0=yv, y1=yv,
                           line=dict(color=color, width=3, dash=dash), layer="above"))

    # texts
    annotations.append(dict(text=var_names[p], xref="paper", yref="paper", x=px(L + FW), y=py(TITLE_Y[row]),
                            xanchor="right", yanchor="middle", showarrow=False,
                            font=dict(family=SERIF, size=40, color="black")))
    annotations.append(dict(text=y_titles[p], xref="paper", yref="paper", x=px(L - 110), y=py(mt + 2),
                            xanchor="center", yanchor="top", textangle=-90, showarrow=False,
                            font=dict(family=SANS, size=37.5, color="black")))
    annotations.append(dict(text="pull", xref="paper", yref="paper", x=px(L - 75), y=py((pt + pb) / 2),
                            xanchor="center", yanchor="middle", textangle=-90, showarrow=False,
                            font=dict(family=SERIF, size=38, color="black", weight="bold")))
    for rx, ry, txt in lhcb_pos[p]:
        annotations.append(dict(text=txt, xref="paper", yref="paper", x=px(L + rx), y=py(mt + ry),
                                xanchor="left", yanchor="middle", showarrow=False,
                                font=dict(family=SERIF, size=66, color="black")))

layout["annotations"] = annotations
layout["shapes"] = shapes
fig.update_layout(**layout)
fig.write_html("out.html")
